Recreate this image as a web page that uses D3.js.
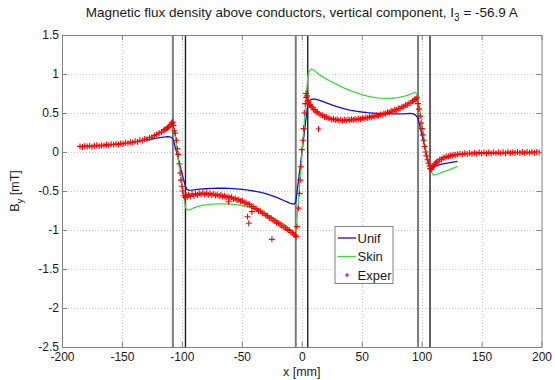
<!DOCTYPE html>
<html>
<head>
<meta charset="utf-8">
<script src="https://cdn.jsdelivr.net/npm/d3@7"></script>
<style>
body { margin: 0; background: #fff; }
text { font-family: "Liberation Sans", Arial, sans-serif; fill: #1a1a1a; }
</style>
</head>
<body>
<svg id="chart" width="555" height="380"></svg>
<script>
// ticks
const xTicks = [-200, -150, -100, -50, 0, 50, 100, 150, 200];
const yTicks = [-2.5, -2, -1.5, -1, -0.5, 0, 0.5, 1, 1.5];

// conductor edges [mm]
const conductorEdges = [-107.5, -97, -5, 5, 97, 107];

// model curves
const modelX = [-130, -125, -120, -115, -112, -110, -108, -107,
    -105, -103, -101, -99, -97, -96, -94, -92, -90,
    -85, -80, -75, -70, -65, -60, -55, -50, -45, -40, -35, -30, -25, -20, -15,
    -12, -10, -8, -6, -5,
    -3, -1, 1, 3, 5,
    6, 8, 10, 12, 15,
    20, 25, 30, 35, 40, 45, 50, 55, 60, 65, 70, 75, 80, 85, 90,
    92, 94, 96, 97, 99, 101, 103, 105, 107, 108,
    110, 112, 115, 120, 125, 130];

const unifY = [0.15, 0.165, 0.18, 0.192, 0.197, 0.195, 0.178, 0.15,
    0.03, -0.09, -0.21, -0.33, -0.44, -0.475, -0.492, -0.49, -0.485,
    -0.477, -0.471, -0.467, -0.465, -0.465, -0.467, -0.472, -0.479, -0.489, -0.5, -0.515, -0.535, -0.558, -0.587, -0.622,
    -0.643, -0.655, -0.664, -0.666, -0.64,
    -0.4, -0.15, 0.1, 0.36, 0.6,
    0.65, 0.675, 0.68, 0.676, 0.662,
    0.632, 0.603, 0.578, 0.556, 0.538, 0.524, 0.513, 0.504, 0.498, 0.493, 0.49, 0.488, 0.488, 0.49, 0.494,
    0.492, 0.483, 0.455, 0.43, 0.3, 0.17, 0.04, -0.09, -0.18, -0.193,
    -0.19, -0.178, -0.163, -0.146, -0.132, -0.12];

const skinY = [0.175, 0.2, 0.235, 0.272, 0.3, 0.325, 0.355, 0.35,
    0.136, -0.08, -0.29, -0.5, -0.71, -0.738, -0.745, -0.733, -0.715,
    -0.692, -0.677, -0.669, -0.665, -0.665, -0.668, -0.675, -0.686, -0.702, -0.726, -0.757, -0.793, -0.832, -0.876, -0.925,
    -0.958, -0.985, -1.02, -1.062, -1.085,
    -0.675, -0.265, 0.145, 0.555, 0.965,
    1.03, 1.064, 1.052, 1.025, 0.985,
    0.94, 0.898, 0.86, 0.823, 0.79, 0.76, 0.735, 0.715, 0.7, 0.691, 0.687, 0.689, 0.698, 0.714, 0.735,
    0.75, 0.764, 0.752, 0.667, 0.5, 0.29, 0.07, -0.09, -0.2, -0.25,
    -0.295, -0.29, -0.275, -0.245, -0.215, -0.185];

// measured points
const expX = [
    -185, -183, -181, -179, -177, -175, -173, -171, -169, -167, -165, -163, -161, -159, -157, -155,
    -153, -151, -149, -147, -145, -143, -141, -139, -137, -135, -133, -131, -129, -127, -125, -123,
    -121, -119, -117, -115, -114, -113, -112, -111, -110, -109, -108.5, -108, -107.5, -107,
    -106.2, -105.5, -104.5, -103.8, -103, -102.2, -101.5, -100.8, -100, -99.3,
    -98.5, -97.5, -96.5, -95.5, -94.5, -93, -91.5, -90, -88.5, -87, -85.5, -84, -82.5, -81, -79.5,
    -78, -76.5, -75, -73.5, -72, -70.5, -69, -67.5, -66, -64.5, -63, -61.5, -61, -60, -58.5, -57,
    -55.5, -54, -52.5, -51, -49.5, -48, -46.5, -45.2, -45, -44.2, -43.5, -42, -41.6, -40.5, -39,
    -37.5, -36, -34.5, -33, -31.5, -30, -28.5, -27, -25.5, -24.9, -24, -22.5, -21, -19.5, -18,
    -16.5, -15, -13.5, -12, -10.5, -9, -7.5, -6.5, -5.5, -4.8,
    -4, -2.7, -1.8, -1.25, -0.7, 0.1, 1, 1.5, 2.1, 2.9,
    3.4, 3.8, 4.3, 5, 5.8, 6.5, 7.2, 8, 9, 10, 11, 12, 13, 14, 14.5, 16, 17.5, 19, 20.5, 22, 23.5,
    25, 26.5, 28, 29.5, 31, 32.5, 34, 35.5, 37, 38.5, 40, 41.5, 43, 44.5, 46, 47.5, 49, 50.5, 52,
    53.5, 55, 56.5, 58, 59.5, 61, 62.5, 64, 65.5, 67, 68.5, 70, 71.5, 73, 74.5, 76, 77.5, 79, 80.5,
    82, 83.5, 85, 86.5, 88, 89.5, 91, 92.5, 93.5, 94.5, 95.5, 96.3,
    97, 97.8, 98.6, 99.4, 100.2, 101, 101.7, 102.4, 103.2, 104, 104.8, 105.6, 106.4, 107.2, 108,
    108.8, 109.6, 110.5, 111.5, 112.5, 113.5, 115, 116.5, 118, 119.5, 121, 122.5, 124, 125.5, 127, 128.5,
    130, 132, 134, 136, 138, 140, 142, 144, 146, 148, 150, 152, 154, 156, 158, 160, 162, 164, 166,
    168, 170, 172, 174, 176, 178, 180, 182, 184, 186, 188, 190, 192, 194, 196, 198];

const expY = [
    0.072, 0.064, 0.078, 0.07, 0.081, 0.068, 0.079, 0.085, 0.074, 0.088, 0.082, 0.094, 0.087, 0.099, 0.092, 0.104,
    0.097, 0.11, 0.104, 0.118, 0.112, 0.127, 0.121, 0.138, 0.133, 0.151, 0.147, 0.166, 0.162, 0.183, 0.19, 0.21,
    0.224, 0.245, 0.255, 0.278, 0.29, 0.297, 0.312, 0.318, 0.336, 0.352, 0.375, 0.362, 0.385, 0.34,
    0.27, 0.24, 0.15, 0.04, -0.03, -0.15, -0.27, -0.36, -0.44, -0.5,
    -0.56, -0.58, -0.555, -0.575, -0.55, -0.57, -0.54, -0.56, -0.535, -0.55, -0.53, -0.545, -0.525, -0.545, -0.53,
    -0.548, -0.532, -0.552, -0.538, -0.558, -0.545, -0.565, -0.552, -0.572, -0.56, -0.58, -0.57, -0.637, -0.59, -0.58, -0.602,
    -0.595, -0.615, -0.61, -0.632, -0.628, -0.65, -0.648, -0.83, -0.672, -0.914, -0.67, -0.695, -0.765, -0.7, -0.725,
    -0.73, -0.755, -0.76, -0.785, -0.79, -0.815, -0.822, -0.845, -0.85, -1.12, -0.875, -0.885, -0.905, -0.915, -0.935,
    -0.945, -0.965, -0.975, -0.995, -1.005, -1.03, -1.035, -1.06, -1.065, -1.085,
    -0.957, -0.72, -0.53, -0.36, -0.19, 0.03, 0.15, 0.3, 0.5, 0.62,
    0.75, 0.7, 0.72, 0.66, 0.64, 0.61, 0.6, 0.575, 0.57, 0.545, 0.54, 0.515, 0.51, 0.295, 0.49, 0.475, 0.47, 0.45, 0.448, 0.432, 0.43,
    0.418, 0.424, 0.41, 0.418, 0.405, 0.414, 0.402, 0.414, 0.404, 0.416, 0.406, 0.42, 0.41, 0.424, 0.415, 0.43, 0.42, 0.436, 0.428,
    0.443, 0.436, 0.452, 0.444, 0.46, 0.455, 0.47, 0.466, 0.482, 0.478, 0.495, 0.492, 0.51, 0.506, 0.525, 0.522, 0.542, 0.54, 0.56,
    0.558, 0.58, 0.58, 0.6, 0.602, 0.625, 0.628, 0.65, 0.66, 0.68, 0.675, 0.695,
    0.62, 0.55, 0.46, 0.37, 0.3, 0.22, 0.15, 0.07, 0.0, -0.05, -0.1, -0.145, -0.18, -0.21, -0.225,
    -0.2, -0.18, -0.165, -0.145, -0.13, -0.118, -0.1, -0.092, -0.075, -0.072, -0.058, -0.056, -0.044, -0.046, -0.034, -0.038,
    -0.03, -0.022, -0.03, -0.016, -0.026, -0.012, -0.024, -0.01, -0.022, -0.008, -0.02, -0.006, -0.019, -0.005, -0.018, -0.004, -0.017, -0.004, -0.016,
    -0.003, -0.015, -0.002, -0.014, -0.002, -0.013, -0.001, -0.013, 0.0, -0.012, 0.0, -0.011, 0.001, -0.01, 0.001, -0.008];

const seriesNames = ['Unif', 'Skin', 'Exper'];
const seriesColors = ['#1010d0', '#40d840', '#ff0000'];

const margin = { left: 62, right: 13.5, top: 35, bottom: 33 };
const width = 555, height = 380;

const svg = d3.select('#chart');

const x = d3.scaleLinear().domain([-200, 200]).range([margin.left, width - margin.right]);
const y = d3.scaleLinear().domain([-2.5, 1.5]).range([height - margin.bottom, margin.top]);

const x0 = x.range()[0], x1 = x.range()[1];
const y0 = y.range()[0], y1 = y.range()[1];

// grid
const grid = svg.append('g')
    .attr('stroke', '#c4c4c4')
    .attr('stroke-width', 1)
    .attr('stroke-dasharray', '1,2');
grid.selectAll('.gx')
    .data(xTicks.slice(1, -1))
    .enter().append('line')
    .attr('x1', d => Math.round(x(d)) + 0.5).attr('x2', d => Math.round(x(d)) + 0.5)
    .attr('y1', y1).attr('y2', y0);
grid.selectAll('.gy')
    .data(yTicks.slice(1, -1))
    .enter().append('line')
    .attr('y1', d => Math.round(y(d)) + 0.5).attr('y2', d => Math.round(y(d)) + 0.5)
    .attr('x1', x0).attr('x2', x1);

// conductor edges
svg.append('g')
    .selectAll('line')
    .data(conductorEdges)
    .enter().append('line')
    .attr('x1', d => x(d)).attr('x2', d => x(d))
    .attr('y1', y1).attr('y2', y0)
    .attr('stroke', (d, i) => i % 2 === 0 ? '#7c7c7c' : '#202020')
    .attr('stroke-width', (d, i) => i % 2 === 0 ? 2 : 1.4);

// model curves
const line = d3.line()
    .x(d => x(d[0]))
    .y(d => y(d[1]));

[unifY, skinY].forEach((vals, k) => {
    svg.append('path')
        .datum(modelX.map((v, i) => [v, vals[i]]))
        .attr('fill', 'none')
        .attr('stroke', seriesColors[k])
        .attr('stroke-width', 1.3)
        .attr('d', line);
});

// measured points
const plus = 'M-3,0H3M0,-3V3';
svg.append('g')
    .selectAll('path')
    .data(expX.map((v, i) => [v, expY[i]]))
    .enter().append('path')
    .attr('transform', d => `translate(${x(d[0])},${y(d[1])})`)
    .attr('d', plus)
    .attr('stroke', seriesColors[2])
    .attr('stroke-width', 1.1)
    .attr('fill', 'none');

// axes (ticks inward, box on)
const fmt = d => String(d);
function styleAxis(g) {
    g.selectAll('.domain').attr('stroke', '#808080');
    g.selectAll('.tick line').attr('stroke', '#808080');
    g.selectAll('.tick text').attr('font-size', 12).attr('fill', '#1a1a1a')
        .style('font-family', '"Liberation Sans", Arial, sans-serif');
}
svg.append('g')
    .attr('transform', `translate(0,${y0})`)
    .call(d3.axisBottom(x).tickValues(xTicks).tickFormat(fmt).tickSizeInner(-5).tickSizeOuter(0).tickPadding(5))
    .call(styleAxis);
svg.append('g')
    .attr('transform', `translate(0,${y1})`)
    .call(d3.axisTop(x).tickValues(xTicks).tickFormat('').tickSizeInner(-5).tickSizeOuter(0))
    .call(styleAxis);
svg.append('g')
    .attr('transform', `translate(${x0},0)`)
    .call(d3.axisLeft(y).tickValues(yTicks).tickFormat(fmt).tickSizeInner(-5).tickSizeOuter(0).tickPadding(3))
    .call(styleAxis);
svg.append('g')
    .attr('transform', `translate(${x1},0)`)
    .call(d3.axisRight(y).tickValues(yTicks).tickFormat('').tickSizeInner(-5).tickSizeOuter(0))
    .call(styleAxis);

// title
const title = svg.append('text')
    .attr('x', (x0 + x1) / 2)
    .attr('y', 17)
    .attr('text-anchor', 'middle')
    .attr('font-size', 13.5);
title.append('tspan').text('Magnetic flux density above conductors, vertical component, I');
title.append('tspan').attr('font-size', 10).attr('dy', 4).text('3');
title.append('tspan').attr('dy', -4).text(' = -56.9 A');

// axis labels
svg.append('text')
    .attr('x', (x0 + x1) / 2)
    .attr('y', 376)
    .attr('text-anchor', 'middle')
    .attr('font-size', 12.5)
    .text('x [mm]');

const ylab = svg.append('text')
    .attr('transform', `translate(19,${(y0 + y1) / 2}) rotate(-90)`)
    .attr('text-anchor', 'middle')
    .attr('font-size', 12.5);
ylab.append('tspan').text('B');
ylab.append('tspan').attr('font-size', 9.5).attr('dy', 3.5).text('y');
ylab.append('tspan').attr('dy', -3.5).text(' [mT]');

// legend
const legend = svg.append('g').attr('transform', 'translate(335,226.5)');
legend.append('rect')
    .attr('width', 58).attr('height', 57)
    .attr('fill', '#fff')
    .attr('stroke', '#808080');
seriesNames.forEach((name, i) => {
    const row = legend.append('g').attr('transform', `translate(0,${11.5 + i * 18.5})`);
    if (i < 2) {
        row.append('line')
            .attr('x1', 3).attr('x2', 21)
            .attr('stroke', seriesColors[i])
            .attr('stroke-width', 1.3);
    } else {
        row.append('path')
            .attr('transform', 'translate(12,0)')
            .attr('d', 'M-2,0H2M0,-2V2')
            .attr('stroke', seriesColors[i])
            .attr('stroke-width', 1.1);
    }
    row.append('text')
        .attr('x', 22.5)
        .attr('dy', '0.36em')
        .attr('font-size', 13)
        .text(name);
});
</script>
</body>
</html>
